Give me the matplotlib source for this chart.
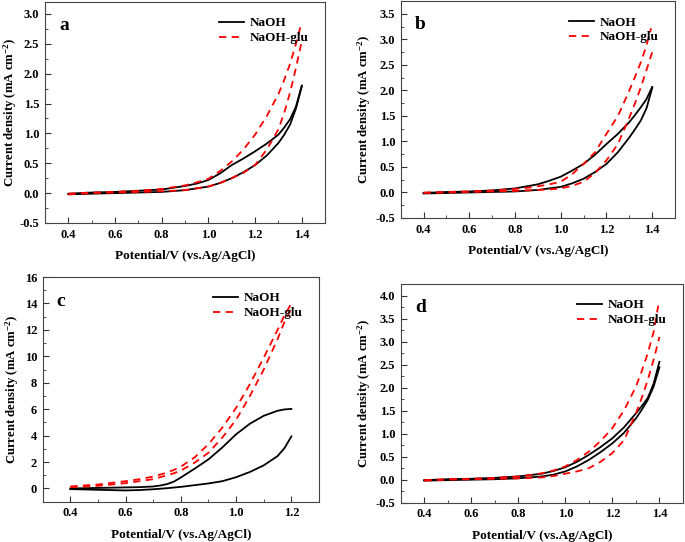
import matplotlib.pyplot as plt
from matplotlib.ticker import MultipleLocator, AutoMinorLocator

plt.rcParams['font.family'] = 'Liberation Serif'
plt.rcParams['font.weight'] = 'bold'
plt.rcParams['axes.unicode_minus'] = False
plt.rcParams['mathtext.fontset'] = 'custom'
plt.rcParams['mathtext.rm'] = 'Liberation Serif:bold'
plt.rcParams['mathtext.bf'] = 'Liberation Serif:bold'
plt.rcParams['mathtext.default'] = 'bf'

# potentials (V) where values were read
pot_fwd = [0.4, 0.5, 0.6, 0.7, 0.8, 0.85, 0.9, 0.95, 1.0, 1.05, 1.1, 1.15, 1.2, 1.25, 1.3, 1.325, 1.35, 1.375, 1.4]
pot_rev = [0.4, 0.5, 0.6, 0.7, 0.8, 0.85, 0.9, 0.95, 1.0, 1.05, 1.1, 1.15, 1.2, 1.25, 1.3, 1.325, 1.35, 1.375, 1.395]
pot_c = [0.4, 0.5, 0.6, 0.65, 0.7, 0.725, 0.75, 0.775, 0.8, 0.85, 0.9, 0.95, 1.0, 1.05, 1.1, 1.15, 1.175, 1.2]

# panel a
a_naoh_fwd = [-0.02, -0.01, 0.0, 0.01, 0.02, 0.035, 0.05, 0.08, 0.11, 0.17, 0.25, 0.35, 0.47, 0.63, 0.84, 0.98, 1.15, 1.42, 1.79]
a_naoh_rev = [-0.01, 0.01, 0.02, 0.04, 0.06, 0.09, 0.12, 0.16, 0.22, 0.33, 0.47, 0.58, 0.70, 0.83, 0.98, 1.1, 1.24, 1.45, 1.8]
a_glu_fwd = [-0.02, 0.0, 0.01, 0.02, 0.03, 0.04, 0.05, 0.08, 0.11, 0.17, 0.25, 0.34, 0.47, 0.73, 1.07, 1.35, 1.69, 2.1, 2.55]
a_glu_rev = [-0.01, 0.01, 0.02, 0.04, 0.07, 0.1, 0.13, 0.18, 0.24, 0.37, 0.53, 0.73, 0.98, 1.29, 1.66, 1.9, 2.17, 2.5, 2.8]

# panel b
b_naoh_fwd = [-0.02, -0.01, 0.0, 0.01, 0.02, 0.035, 0.05, 0.08, 0.11, 0.18, 0.27, 0.4, 0.56, 0.79, 1.08, 1.24, 1.41, 1.65, 2.05]
b_naoh_rev = [-0.01, 0.01, 0.02, 0.04, 0.08, 0.12, 0.16, 0.23, 0.31, 0.43, 0.56, 0.74, 0.95, 1.15, 1.38, 1.52, 1.67, 1.83, 2.07]
b_glu_fwd = [-0.01, 0.0, 0.01, 0.02, 0.03, 0.04, 0.05, 0.06, 0.08, 0.13, 0.21, 0.38, 0.63, 0.95, 1.47, 1.75, 2.06, 2.4, 2.75]
b_glu_rev = [0.0, 0.01, 0.02, 0.04, 0.07, 0.09, 0.12, 0.16, 0.21, 0.36, 0.56, 0.79, 1.15, 1.5, 2.0, 2.27, 2.55, 2.88, 3.22]

# panel c
c_naoh_fwd = [-0.05, -0.1, -0.15, -0.12, -0.06, -0.02, 0.02, 0.07, 0.12, 0.25, 0.38, 0.55, 0.85, 1.25, 1.75, 2.45, 3.05, 3.94]
c_naoh_rev = [0.0, 0.04, 0.08, 0.1, 0.15, 0.22, 0.33, 0.52, 0.83, 1.5, 2.2, 3.1, 4.1, 4.9, 5.5, 5.88, 5.98, 6.02]
c_glu_fwd = [0.1, 0.2, 0.4, 0.55, 0.7, 0.85, 1.0, 1.15, 1.35, 1.95, 2.7, 3.85, 5.2, 7.0, 9.0, 11.3, 12.6, 13.6]
c_glu_rev = [0.15, 0.3, 0.55, 0.7, 0.9, 1.05, 1.2, 1.4, 1.65, 2.35, 3.35, 4.6, 6.1, 7.9, 9.9, 12.0, 13.1, 14.0]

# panel d
d_naoh_fwd = [-0.02, -0.01, 0.0, 0.01, 0.03, 0.05, 0.07, 0.11, 0.18, 0.29, 0.43, 0.6, 0.79, 1.02, 1.33, 1.52, 1.73, 2.02, 2.44]
d_naoh_rev = [-0.01, 0.01, 0.02, 0.04, 0.07, 0.1, 0.13, 0.19, 0.27, 0.39, 0.54, 0.71, 0.9, 1.14, 1.44, 1.6, 1.77, 2.08, 2.56]
d_glu_fwd = [-0.02, 0.0, 0.01, 0.02, 0.03, 0.04, 0.05, 0.08, 0.13, 0.18, 0.25, 0.39, 0.58, 0.86, 1.44, 1.78, 2.16, 2.6, 3.1]
d_glu_rev = [-0.01, 0.01, 0.02, 0.04, 0.07, 0.1, 0.14, 0.2, 0.29, 0.43, 0.61, 0.84, 1.12, 1.51, 2.02, 2.36, 2.74, 3.2, 3.78]

panels = [
    ('a', pot_fwd, pot_fwd, pot_rev, a_naoh_fwd, a_naoh_rev, a_glu_fwd, a_glu_rev,
     (0.3, 1.5), (-0.5, 3.2), 0.5, [0.0657, 0.5886, 0.409, 0.4077], -0.092),
    ('b', pot_fwd, pot_fwd, pot_rev, b_naoh_fwd, b_naoh_rev, b_glu_fwd, b_glu_rev,
     (0.3, 1.5), (-0.5, 3.75), 0.5, [0.585, 0.5978, 0.4005, 0.400], -0.10),
    ('c', pot_c, pot_c, pot_c, c_naoh_fwd, c_naoh_rev, c_glu_fwd, c_glu_rev,
     (0.3, 1.3), (-1, 16), 2, [0.0623, 0.0744, 0.4034, 0.4145], -0.078),
    ('d', pot_fwd, pot_fwd, pot_rev, d_naoh_fwd, d_naoh_rev, d_glu_fwd, d_glu_rev,
     (0.3, 1.5), (-0.5, 4.25), 0.5, [0.585, 0.0725, 0.412, 0.4035], -0.097),
]

fig = plt.figure(figsize=(6.85, 5.42), dpi=100)
for name, px, pf, pr, nf, nr, gf, gr, xl, yl, ystep, pos, ylx in panels:
    ax = fig.add_axes(pos)
    ax.plot(px, nf, color='black', lw=1.3, label='NaOH')
    ax.plot(px, nr, color='black', lw=1.3)
    ax.plot(pf, gf, color='red', lw=1.3, ls=(0, (4, 3)), label='NaOH-glu')
    ax.plot(pr, gr, color='red', lw=1.3, ls=(0, (4, 3)))
    ax.set_xlim(*xl)
    ax.set_ylim(*yl)
    ax.set_xticks([t / 10 for t in range(4, int(round(xl[1] * 10)), 2)])
    ax.yaxis.set_major_locator(MultipleLocator(ystep))
    ax.xaxis.set_minor_locator(AutoMinorLocator(2))
    ax.yaxis.set_minor_locator(AutoMinorLocator(2))
    ax.set_ylim(*yl)
    ax.tick_params(which='both', direction='in', labelsize=9, color='#333333', pad=4)
    ax.tick_params(which='major', length=4)
    ax.tick_params(which='minor', length=2.5)
    for lbl in ax.get_xticklabels() + ax.get_yticklabels():
        lbl.set_fontweight('bold')
    for sp in ax.spines.values():
        sp.set_color('#444444')
    ax.set_xlabel('Potential/V (vs.Ag/AgCl)', fontsize=9.5, fontweight='bold', labelpad=7)
    ax.set_ylabel('Current density (mA cm$^{-2}$)', fontsize=9.2, fontweight='bold')
    ax.yaxis.set_label_coords(ylx, 0.5)
    ax.text(0.05, 0.93, name, transform=ax.transAxes, fontsize=14, fontweight='bold', va='top')
    ax.legend(loc='upper right', bbox_to_anchor=(0.985, 0.985), frameon=False, fontsize=9.5,
              handlelength=1.9, handletextpad=0.45, labelspacing=0.2)

fig.savefig('out.png', dpi=100)
